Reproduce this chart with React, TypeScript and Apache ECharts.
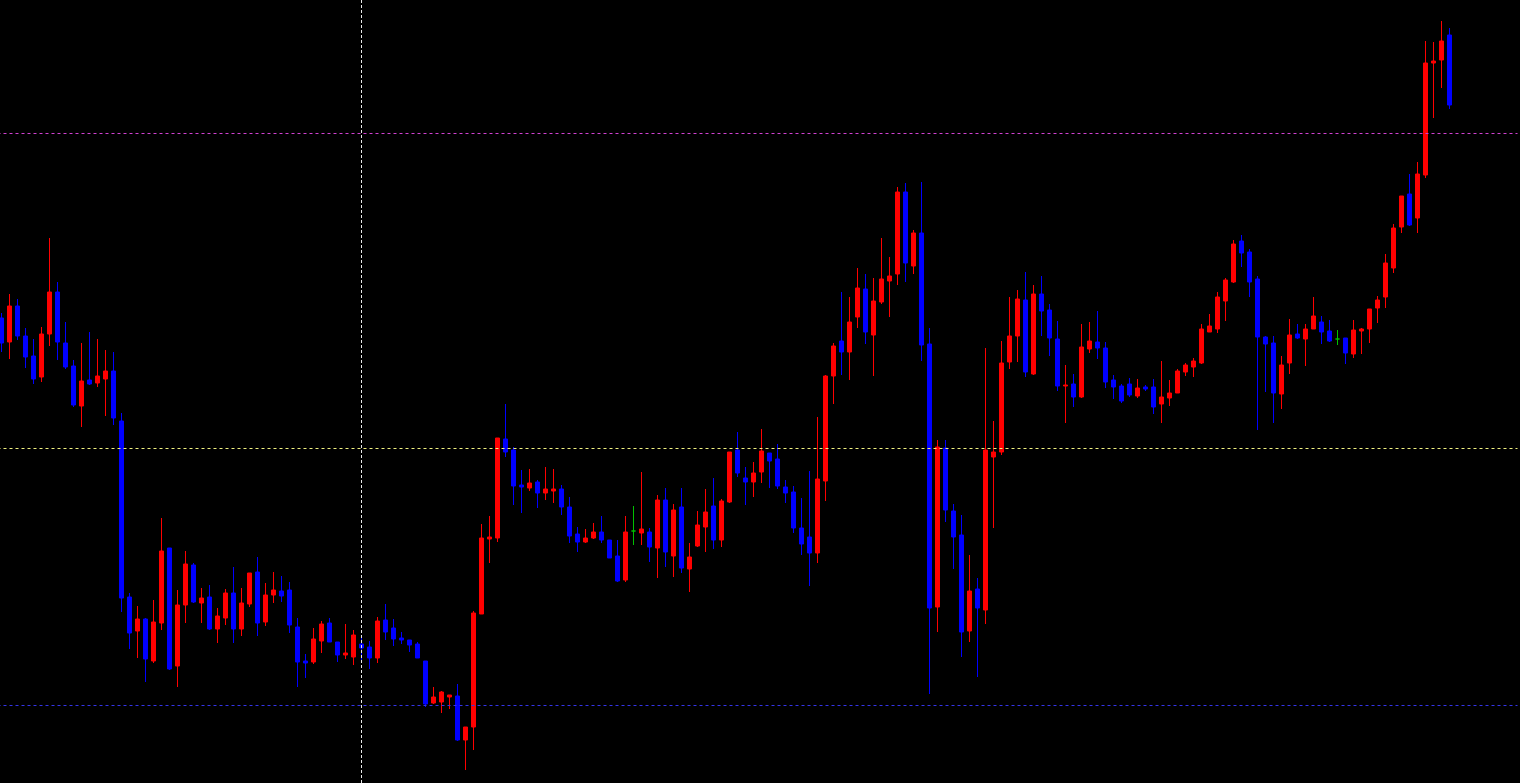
import React, { useEffect, useRef } from "react";
import * as echarts from "echarts";

// OHLC values (arbitrary price units)
const opens = [
  465, 441, 477, 447, 427, 406, 449, 491, 440, 417, 377, 403, 400, 404, 412, 362, 186, 152, 164, 122,
  160, 235, 117, 178, 218, 180, 186, 154, 165, 190, 154, 179, 211, 161, 188, 192, 193, 156, 122, 121,
  142, 160, 141, 128, 126, 139, 136, 125, 163, 155, 145, 143, 139, 122, 80, 81, 86, 87, 43, 56,
  169, 244, 245, 344, 333, 298, 295, 301, 290, 292, 294, 276, 249, 241, 245, 251, 243, 227, 203, 252,
  250, 251, 235, 283, 227, 276, 214, 237, 256, 277, 243, 281, 333, 305, 301, 311, 330, 324, 296, 291,
  255, 246, 230, 302, 407, 442, 431, 466, 494, 448, 481, 502, 509, 591, 517, 550, 439, 176, 335, 272,
  248, 152, 194, 173, 326, 331, 421, 447, 483, 409, 489, 473, 444, 397, 399, 386, 434, 441, 435, 403,
  397, 399, 387, 396, 396, 379, 385, 390, 411, 416, 420, 451, 454, 482, 501, 542, 531, 504, 446, 440,
  389, 420, 449, 444, 454, 461, 452, 444, 445, 429, 452, 454, 475, 486, 515, 556, 589, 565, 608, 720,
  723, 748,
];
const closes = [
  440, 477, 447, 426, 404, 449, 491, 441, 416, 378, 402, 399, 407, 412, 365, 185, 150, 164, 124, 161,
  232, 114, 178, 219, 181, 185, 154, 167, 190, 154, 180, 210, 160, 188, 193, 187, 158, 121, 120, 144,
  159, 141, 128, 130, 148, 135, 125, 162, 151, 144, 143, 138, 125, 79, 86, 91, 88, 43, 56, 170,
  245, 246, 345, 331, 297, 296, 300, 290, 294, 294, 276, 247, 241, 245, 251, 243, 225, 202, 251, 252,
  254, 236, 283, 231, 273, 215, 226, 258, 271, 243, 282, 331, 310, 301, 310, 332, 322, 297, 290, 255,
  239, 230, 304, 407, 437, 431, 461, 495, 451, 482, 504, 507, 591, 520, 550, 438, 175, 336, 273, 246,
  151, 192, 175, 333, 331, 420, 447, 484, 411, 489, 472, 445, 397, 398, 386, 436, 442, 435, 401, 396,
  382, 388, 395, 394, 376, 386, 390, 412, 418, 422, 454, 457, 486, 503, 539, 530, 501, 446, 439, 390,
  418, 448, 445, 454, 467, 451, 442, 444, 430, 453, 454, 474, 483, 520, 555, 587, 558, 609, 720, 722,
  742, 678,
];
const lows = [
  431, 424, 443, 415, 399, 401, 437, 423, 414, 376, 356, 398, 396, 367, 358, 171, 134, 125, 101, 120,
  153, 113, 96, 160, 180, 160, 153, 140, 158, 140, 147, 176, 147, 157, 180, 181, 150, 96, 105, 119,
  130, 141, 121, 124, 118, 123, 114, 120, 143, 137, 139, 131, 125, 76, 79, 70, 74, 42, 13, 33,
  169, 220, 241, 326, 278, 270, 292, 275, 283, 280, 268, 240, 231, 240, 244, 240, 225, 201, 201, 238,
  238, 221, 205, 216, 206, 210, 191, 236, 231, 234, 236, 280, 306, 278, 286, 300, 295, 294, 280, 250,
  228, 197, 220, 282, 379, 408, 403, 455, 439, 407, 479, 466, 498, 501, 509, 422, 89, 151, 261, 214,
  126, 141, 106, 159, 255, 328, 414, 421, 406, 408, 447, 427, 392, 360, 376, 385, 430, 424, 395, 384,
  380, 386, 385, 392, 369, 360, 377, 390, 407, 406, 419, 451, 450, 462, 500, 516, 486, 353, 391, 360,
  374, 409, 444, 417, 454, 439, 441, 438, 419, 425, 429, 440, 460, 475, 510, 550, 557, 550, 605, 665,
  695, 674,
];
const highs = [
  470, 489, 484, 455, 444, 456, 545, 501, 461, 423, 440, 451, 444, 433, 431, 370, 190, 177, 165, 183,
  265, 235, 193, 232, 220, 195, 198, 175, 194, 216, 195, 210, 226, 200, 211, 207, 201, 165, 129, 155,
  162, 165, 141, 159, 153, 147, 142, 166, 179, 164, 151, 143, 141, 122, 96, 92, 88, 99, 56, 172,
  259, 267, 345, 379, 336, 313, 314, 303, 316, 314, 298, 286, 256, 254, 260, 267, 243, 243, 267, 277,
  311, 255, 288, 295, 279, 295, 240, 272, 294, 305, 284, 331, 351, 316, 321, 354, 330, 339, 303, 297,
  285, 312, 366, 408, 440, 491, 486, 515, 509, 505, 545, 526, 596, 600, 553, 601, 455, 343, 343, 279,
  268, 228, 205, 435, 362, 442, 486, 493, 511, 498, 507, 479, 462, 418, 409, 459, 461, 472, 441, 408,
  399, 405, 404, 398, 404, 422, 403, 414, 420, 425, 459, 469, 491, 505, 543, 548, 534, 507, 447, 447,
  427, 464, 459, 459, 486, 467, 463, 453, 445, 463, 455, 474, 487, 529, 559, 587, 609, 621, 742, 741,
  762, 755,
];

// Horizontal price levels and the vertical marker bar
const levelMagenta = 649.5;
const levelYellow = 334.5;
const levelBlue = 77.5;
const markerBar = 45;

const slotCount = 190; // includes empty space to the right (chart shift)

export default function App() {
  const ref = useRef<HTMLDivElement>(null);

  useEffect(() => {
    if (!ref.current) return;
    const chart = echarts.init(ref.current, undefined, { renderer: "svg" });

    const categories = Array.from({ length: slotCount }, (_, i) => String(i));
    const green = "#00c000";
    const data: any[] = categories.map((_, i) => {
      if (i >= opens.length) return "-";
      const v = [opens[i], closes[i], lows[i], highs[i]];
      if (opens[i] === closes[i]) {
        return {
          value: v,
          itemStyle: {
            color: green,
            color0: green,
            borderColor: green,
            borderColor0: green,
            borderColorDoji: green,
          },
        };
      }
      return v;
    });
    const empty = categories.map(() => "-");

    const guide = (name: string, color: string, item: any, dash: number[]) => ({
      name,
      type: "line",
      data: empty,
      symbol: "none",
      silent: true,
      color,
      lineStyle: { color, width: 0 },
      markLine: {
        silent: true,
        symbol: "none",
        animation: false,
        label: { show: false },
        emphasis: { disabled: true },
        lineStyle: { color, type: dash, width: 1, opacity: 1 },
        data: [item],
      },
    });

    chart.setOption({
      animation: false,
      backgroundColor: "#000000",
      grid: { left: 1.5, right: 6.5, top: 0, bottom: 0, containLabel: false },
      xAxis: {
        type: "category",
        data: categories,
        show: false,
        boundaryGap: true,
      },
      yAxis: {
        type: "value",
        min: 0,
        max: 783,
        show: false,
        splitLine: { show: false },
      },
      series: [
        guide("magenta", "#d040d0", { yAxis: levelMagenta }, [3, 3]),
        guide("yellow", "#f0f080", { yAxis: levelYellow }, [3, 3]),
        guide("blue", "#3434e8", { yAxis: levelBlue }, [3, 3]),
        guide("marker", "#e8e8e8", { xAxis: markerBar }, [3, 2]),
        {
          type: "candlestick",
          data,
          barWidth: 4,
          itemStyle: {
            color: "#ff0000",
            color0: "#0000ff",
            borderColor: "#ff0000",
            borderColor0: "#0000ff",
            borderColorDoji: green,
            borderWidth: 1,
          },
        },
      ],
    });

    return () => chart.dispose();
  }, []);

  return (
    <div
      ref={ref}
      style={{
        position: "fixed",
        left: -4,
        top: 0,
        width: 1528,
        height: 783,
        background: "#000000",
      }}
    />
  );
}
